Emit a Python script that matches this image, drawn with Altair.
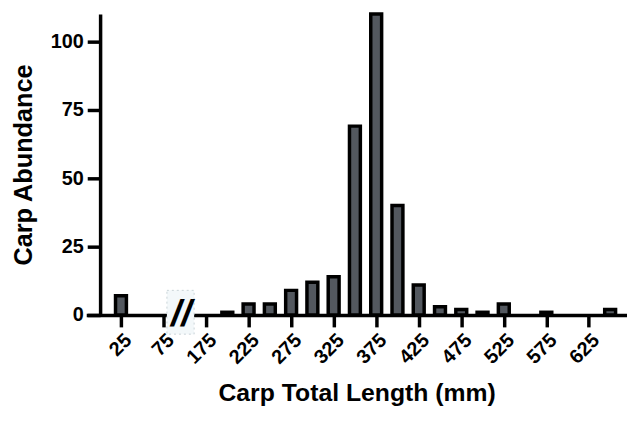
import altair as alt
import pandas as pd

# Bin centres (mm) and carp counts
lengths = [25, 200, 225, 250, 275, 300, 325, 350, 375, 400, 425, 450, 475, 500, 525, 575, 650]
counts = [7, 1, 4, 4, 9, 12, 14, 69, 110, 40, 11, 3, 2, 1, 4, 1, 2]

# Axis break: lengths between 75 and 175 are compressed by 50 mm
break_gap = 50
x_tick_labels = [25, 75, 175, 225, 275, 325, 375, 425, 475, 525, 575, 625]
y_ticks = [0, 12.5, 25, 37.5, 50, 62.5, 75, 87.5, 100]


def to_pos(v):
    return v if v <= 75 else v - break_gap


df = pd.DataFrame({"length": lengths, "count": counts})
df["pos"] = [to_pos(v) for v in lengths]

tick_pos = [to_pos(v) for v in x_tick_labels]

FONT = "Liberation Sans"
BAR_FILL = "#53585f"

x_scale = alt.Scale(domain=[-10, 614], nice=False, zero=False)
y_scale = alt.Scale(domain=[0, 110], nice=False)

bars = alt.Chart(df).mark_bar(
    fill=BAR_FILL, stroke="black", strokeWidth=3.5, size=11
).encode(
    x=alt.X(
        "pos:Q",
        scale=x_scale,
        axis=alt.Axis(
            values=tick_pos,
            labelExpr=f"datum.value <= 75 ? datum.value : datum.value + {break_gap}",
            labelAngle=-45,
            labelFontSize=20,
            labelFont=FONT,
            labelFontWeight="bold",
            labelColor="black",
            labelPadding=3,
            tickSize=12,
            tickWidth=3.5,
            tickColor="black",
            domainWidth=3.5,
            domainColor="black",
            grid=False,
            title="Carp Total Length (mm)",
            titleFont=FONT,
            titleFontSize=25,
            titleFontWeight="bold",
            titleColor="black",
            titlePadding=14,
        ),
    ),
    y=alt.Y(
        "count:Q",
        scale=y_scale,
        axis=alt.Axis(
            values=y_ticks,
            labelExpr="datum.value % 25 == 0 ? datum.label : ''",
            orient="left",
            offset=-14,
            labelFontSize=20,
            labelFont=FONT,
            labelFontWeight="bold",
            labelColor="black",
            labelPadding=4,
            tickSize={"condition": {"test": "datum.value % 25 == 0", "value": 13}, "value": 7},
            tickWidth=3.5,
            tickColor="black",
            domainWidth=3.5,
            domainColor="black",
            grid=False,
            title="Carp Abundance",
            titleFont=FONT,
            titleFontSize=25.5,
            titleFontWeight="bold",
            titleColor="black",
            titlePadding=14,
        ),
    ),
)

# Axis-break decoration
break_box = pd.DataFrame({"x0": [79], "x1": [111], "y0": [-7], "y1": [9]})
box = alt.Chart(break_box).mark_rect(
    fill="#f3f8fa", stroke="#c9d3d8", strokeWidth=1, strokeDash=[2, 3]
).encode(
    x=alt.X("x0:Q", scale=x_scale),
    x2="x1:Q",
    y=alt.Y("y0:Q", scale=y_scale),
    y2="y1:Q",
)

break_mark = pd.DataFrame({"x": [96], "y": [0], "t": ["//"]})
slashes = alt.Chart(break_mark).mark_text(
    font=FONT, fontSize=38, fontWeight="bold", fontStyle="italic",
    color="black", baseline="middle", align="center"
).encode(
    x=alt.X("x:Q", scale=x_scale),
    y=alt.Y("y:Q", scale=y_scale),
    text="t:N",
)

chart = alt.layer(bars, box, slashes).properties(
    width=546,
    height=304,
    background="white",
    autosize=alt.AutoSizeParams(type="none"),
    padding={"left": 79, "top": 4, "right": 0, "bottom": 100},
).configure_view(stroke=None)

chart.save("out.html", embed_options={"renderer": "svg", "actions": False})
